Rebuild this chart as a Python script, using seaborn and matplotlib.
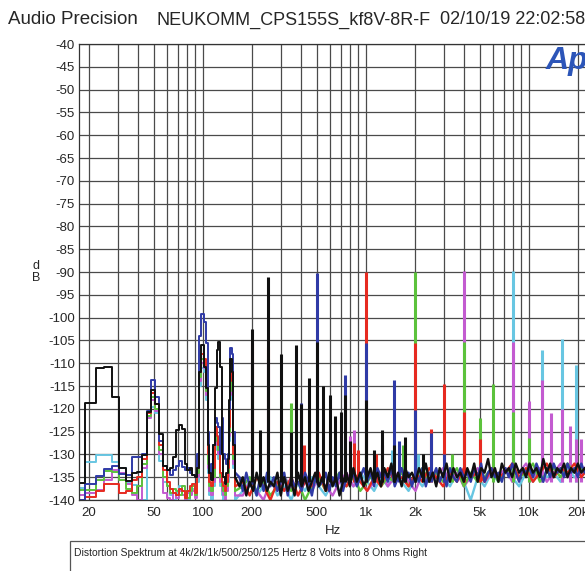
import matplotlib
matplotlib.use("Agg")
import matplotlib.pyplot as plt
import seaborn as sns
import pandas as pd
from matplotlib.patches import Rectangle
from matplotlib.ticker import MultipleLocator

# FFT bins of the low end (Hz)
low_hz = [17.58, 20.51, 23.44, 26.37, 29.30, 32.23, 35.16, 38.09, 41.02, 43.95,
          46.88, 49.80, 52.73, 55.66, 58.59, 61.52, 64.45, 67.38, 70.31, 73.24,
          76.17, 79.10, 82.03, 84.96, 87.89, 90.82, 93.75, 96.68, 99.61, 102.54,
          105.47, 108.40, 111.33, 114.26, 117.19, 120.12, 123.05, 125.98, 128.91, 131.84,
          134.77, 137.70, 140.63, 143.55, 146.48, 149.41, 152.34, 155.27, 158.20]

# noise floor sample frequencies (Hz)
floor_hz = [158, 168, 176, 185, 194, 204, 214, 225, 236, 248, 260, 273, 287, 301, 316,
            332, 349, 366, 384, 404, 424, 445, 467, 490, 515, 541, 568, 596, 626, 657,
            690, 725, 761, 799, 839, 881, 925, 971, 1020, 1070, 1125, 1180, 1240, 1300,
            1365, 1435, 1505, 1580, 1660, 1745, 1830, 1920, 2020, 2120, 2225, 2335, 2450,
            2575, 2705, 2840, 2980, 3130, 3285, 3450, 3625, 3805, 3995, 4195, 4405, 4625,
            4860, 5100, 5355, 5625, 5905, 6200, 6510, 6835, 7180, 7540, 7915, 8310, 8725,
            9165, 9620, 10100, 10610, 11140, 11700, 12280, 12900, 13540, 14220, 14930,
            15680, 16460, 17280, 18150, 19050, 20000, 21000, 22050, 23150]
floor_hz_coarse = floor_hz[::2]

# ---- black trace (250 Hz) ----
black_low = [-136.3, -118.7, -111.1, -110.8, -117.3, -132.9, -135.8, -134.0, -133.8, -130.2,
             -120.8, -115.9, -119.0, -125.5, -132.5, -133.5, -133.0, -130.5, -124.6, -123.6,
             -124.4, -132.0, -133.5, -133.0, -134.5, -135.0, -133.0, -112.0, -106.0, -110.8,
             -115.4, -128.0, -134.0, -135.5, -128.0, -115.4, -107.0, -105.3, -110.8, -130.0,
             -135.0, -136.5, -134.0, -131.0, -118.0, -109.0, -112.0, -128.0, -135.0]
black_floor = [-135, -137, -135, -139, -136, -138, -134, -137, -135, -138, -136,
               -137, -134, -139, -135, -138, -136, -139, -134, -137, -135, -138, -136, -134, -137,
               -135, -138, -134, -137, -135, -139, -136, -134, -137, -133, -136, -134, -137,
               -135, -133, -136, -134, -137, -133, -135, -132, -136, -134, -137, -133, -135, -134,
               -136, -133, -135, -132, -136, -134, -137, -133, -135, -132, -136, -133, -135, -134, -136,
               -133, -135, -132, -136, -133, -134, -131, -135, -133, -136, -132, -134, -133, -135,
               -132, -134, -133, -135,
               -132, -134, -133, -135, -131, -134, -132, -135, -133, -134, -132, -135, -133, -134,
               -132, -134, -133, -134]
black_peak_hz = [200, 225, 250, 300, 350, 375, 400, 450, 500, 545, 600, 650, 700, 750, 800,
                 1000, 1125, 1250, 1500, 1750, 2250]
black_peak_db = [-102.5, -124.6, -91.0, -108.0, -125.0, -106.0, -119.0, -113.3, -105.3, -115.0,
                 -117.0, -121.6, -120.8, -117.0, -127.0, -118.0, -129.0, -124.6, -128.0, -126.1,
                 -130.0]

# ---- blue trace (500 Hz) ----
blue_low = [-140.0, -136.5, -134.7, -133.1, -132.5, -134.2, -134.5, -130.5, -130.5, -130.0,
            -120.5, -113.7, -117.5, -127.0, -132.5, -133.5, -134.5, -133.5, -132.5, -131.5,
            -132.8, -133.5, -133.0, -134.0, -134.5, -135.0, -130.0, -104.0, -99.1, -101.0,
            -105.5, -125.0, -134.0, -132.0, -128.0, -122.0, -123.0, -124.0, -130.0, -122.0,
            -130.0, -131.0, -132.0, -130.0, -120.0, -106.7, -108.0, -125.0, -134.0]
blue_floor = [-134, -135, -138, -134, -137, -136, -139, -135, -138, -134, -137,
              -135, -138, -136, -134, -139, -135, -137, -136, -138, -134, -136, -139, -135, -137,
              -136, -134, -138, -135, -137, -134, -138, -135, -136, -134, -137, -135, -133,
              -136, -134, -137, -133, -135, -134, -136, -133, -137, -135, -133, -136, -134, -137,
              -134, -136, -133, -137, -134, -135, -133, -136, -134, -137, -133, -135, -136, -133, -135,
              -134, -136, -133, -135, -132, -136, -134, -133, -135, -134, -136, -133, -135, -132,
              -134, -136, -133, -134,
              -133, -135, -132, -134, -136, -133, -135, -132, -134, -133, -135, -132, -134, -133,
              -135, -132, -134, -133]
blue_peak_hz = [200, 250, 400, 500, 750, 1000, 1250, 1500, 1600, 2000, 2500, 3000]
blue_peak_db = [-109.3, -109.0, -118.8, -90.3, -112.6, -105.6, -128.0, -113.7, -127.0, -120.2,
                -125.4, -130.0]

# ---- red trace (1 kHz) ----
red_low = [-140.0, -139.4, -138.0, -136.5, -136.5, -138.5, -138.0, -135.5, -135.0, -131.0,
           -121.0, -116.5, -119.0, -128.0, -133.5, -136.0, -137.5, -138.5, -139.0, -137.5,
           -138.0, -139.5, -138.0, -137.0, -136.5, -138.5, -133.0, -112.0, -108.0, -109.0,
           -114.0, -130.0, -136.0, -137.0, -133.0, -124.0, -126.0, -128.0, -134.0, -136.0,
           -137.0, -138.0, -136.0, -133.0, -124.0, -112.0, -114.0, -130.0, -137.0]
red_floor = [-137, -136, -139, -135, -137, -140, -136, -138, -135, -139,
             -136, -137, -134, -138, -136, -135, -137, -134, -136, -138,
             -135, -137, -133, -136, -135, -137, -134, -136, -133, -135,
             -137, -134, -136, -133, -135, -134, -136, -133, -135, -134,
             -132, -135, -133, -136, -134, -132, -135, -133, -134, -132,
             -135, -133]
red_peak_hz = [200, 250, 420, 850, 900, 1000, 1150, 2000, 2500, 3000, 4000, 5000]
red_peak_db = [-105.5, -106.5, -128.0, -127.5, -129.0, -90.0, -130.0, -105.6, -124.5, -114.5,
               -120.6, -126.6]

# ---- green trace (2 kHz) ----
green_low = [-137.8, -137.8, -135.6, -133.6, -133.8, -135.5, -137.5, -138.5, -137.0, -132.0,
             -121.5, -117.5, -120.0, -129.0, -135.0, -137.0, -138.5, -137.5, -138.0, -139.0,
             -137.0, -138.0, -139.5, -138.0, -137.0, -139.0, -134.0, -113.0, -109.0, -110.0,
             -116.0, -132.0, -137.0, -138.0, -135.0, -126.0, -127.0, -129.0, -135.0, -137.0,
             -138.0, -139.0, -137.0, -134.0, -125.0, -114.0, -116.0, -131.0, -138.0]
green_floor = [-138, -137, -135, -138, -136, -139, -137, -135, -138, -136,
               -140, -137, -135, -138, -136, -134, -137, -135, -138, -136,
               -134, -137, -135, -136, -134, -137, -135, -133, -136, -134,
               -136, -135, -133, -137, -134, -136, -135, -133, -136, -134,
               -133, -135, -134, -132, -136, -134, -133, -135, -132, -134,
               -133, -135]
green_peak_hz = [350, 650, 1700, 2000, 3400, 4000, 5000, 6000, 8000, 10000]
green_peak_db = [-118.8, -129.0, -128.0, -90.0, -130.0, -105.3, -122.0, -114.5, -120.6, -126.5]

# ---- magenta trace (4 kHz) ----
magenta_low = [-138.9, -138.5, -137.8, -135.6, -133.5, -134.0, -136.5, -139.0, -140.0, -133.0,
               -122.0, -118.0, -120.5, -130.0, -138.5, -139.5, -140.0, -138.5, -139.5, -138.0,
               -139.0, -140.0, -138.5, -139.0, -138.0, -139.5, -135.0, -114.0, -110.0, -111.0,
               -117.0, -133.0, -138.0, -139.0, -136.0, -127.0, -128.0, -130.0, -136.0, -138.0,
               -139.0, -140.0, -138.0, -135.0, -126.0, -115.0, -117.0, -132.0, -139.0]
magenta_floor = [-139, -139, -136, -138, -140, -136, -138, -135, -137, -139,
                 -136, -138, -135, -137, -139, -136, -134, -137, -135, -138,
                 -136, -134, -137, -135, -133, -136, -138, -134, -136, -135,
                 -133, -136, -134, -137, -135, -133, -136, -134, -135, -133,
                 -136, -134, -132, -135, -133, -136, -134, -132, -135, -133,
                 -134, -132]
magenta_peak_hz = [800, 850, 4000, 8000, 10000, 12000, 13700, 15900, 17800, 19400, 21000]
magenta_peak_db = [-126.0, -124.6, -89.8, -105.3, -118.3, -113.7, -121.0, -120.0, -123.7,
                   -126.6, -126.6]

# ---- cyan trace (8 kHz) ----
cyan_low = [-137.3, -131.7, -130.1, -130.1, -131.6, -133.0, -136.3, -136.8, -140.0, -140.0,
            -121.5, -119.5, -121.0, -131.5, -136.0, -137.0, -139.0, -140.0, -138.5, -137.0,
            -138.0, -139.0, -140.0, -138.5, -137.5, -139.0, -136.0, -115.0, -111.0, -112.0,
            -118.0, -134.0, -139.0, -140.0, -137.0, -128.0, -129.0, -131.0, -137.0, -139.0,
            -140.0, -139.0, -137.0, -136.0, -127.0, -116.0, -118.0, -133.0, -140.0]
cyan_floor = [-140, -138, -136, -139, -137, -135, -139, -137, -140, -136,
              -138, -135, -137, -139, -136, -138, -135, -137, -134, -136,
              -138, -135, -137, -134, -136, -138, -135, -137, -134, -136,
              -135, -137, -134, -136, -140, -135, -137, -134, -136, -133,
              -135, -137, -134, -136, -133, -135, -134, -136, -133, -135,
              -134, -133]
cyan_peak_hz = [1450, 2100, 8000, 12000, 16000, 19400]
cyan_peak_db = [-129.0, -130.0, -89.8, -107.0, -104.6, -110.3]

# drawing order: first is at the bottom
traces = [
    ("cyan", "#68c6e2", cyan_low, floor_hz_coarse, cyan_floor, cyan_peak_hz, cyan_peak_db),
    ("magenta", "#c35bd0", magenta_low, floor_hz_coarse, magenta_floor, magenta_peak_hz, magenta_peak_db),
    ("green", "#5cc23c", green_low, floor_hz_coarse, green_floor, green_peak_hz, green_peak_db),
    ("red", "#e62a20", red_low, floor_hz_coarse, red_floor, red_peak_hz, red_peak_db),
    ("blue", "#2f3aa6", blue_low, floor_hz, blue_floor, blue_peak_hz, blue_peak_db),
    ("black", "#101010", black_low, floor_hz, black_floor, black_peak_hz, black_peak_db),
]

grid_hz = [20, 30, 40, 50, 60, 70, 80, 90, 100, 200, 300, 400, 500, 600, 700, 800, 900,
           1000, 2000, 3000, 4000, 5000, 6000, 7000, 8000, 9000, 10000, 20000]
tick_labels = {20: "20", 50: "50", 100: "100", 200: "200", 500: "500", 1000: "1k",
               2000: "2k", 5000: "5k", 10000: "10k", 20000: "20k"}

sns.set_style("white")
plt.rcParams["font.family"] = ["Liberation Sans", "DejaVu Sans"]
plt.rcParams["axes.unicode_minus"] = False

fig = plt.figure(figsize=(5.85, 5.71), dpi=100)
ax = fig.add_axes([0.135, 0.1243, 0.8697, 0.7986])
ax.set_xscale("log")

for name, color, low_db, f_hz, f_db, pk_hz, pk_db in traces:
    low = pd.DataFrame({"hz": low_hz, "db": low_db})
    floor = pd.DataFrame({"hz": f_hz, "db": f_db})
    sns.lineplot(data=low, x="hz", y="db", color=color, estimator=None, sort=False,
                 drawstyle="steps-mid", linewidth=1.4, ax=ax)
    sns.lineplot(data=floor, x="hz", y="db", color=color, estimator=None, sort=False,
                 linewidth=1.7, ax=ax)
    ax.vlines(pk_hz, -136, pk_db, color=color, linewidth=2.2)

ax.set_xlim(17.4, 23000)
ax.set_ylim(-140, -40)

ax.set_xticks(grid_hz)
ax.set_xticklabels([tick_labels.get(f, "") for f in grid_hz])
ax.xaxis.set_minor_locator(plt.NullLocator())
ax.tick_params(axis="x", length=0, labelsize=9.5, pad=5)

ax.yaxis.set_major_locator(MultipleLocator(5))
ax.yaxis.set_minor_locator(MultipleLocator(0.5))
ax.tick_params(axis="y", which="major", direction="in", length=8, width=0.8, labelsize=9.5, pad=3)
ax.tick_params(axis="y", which="minor", direction="in", length=5, width=0.5)

ax.grid(True, which="major", color="#4a4a4a", linewidth=0.9)
ax.set_axisbelow(True)
for s in ax.spines.values():
    s.set_color("#333333")
    s.set_linewidth(0.9)

ax.set_xlabel("Hz", fontsize=9.5, labelpad=4)
ax.set_ylabel("")
fig.text(36 / 585, 1 - 272 / 571, "d\nB", fontsize=9, ha="center", va="center", linespacing=1.1)

# header
fig.text(8 / 585, 1 - 20 / 571, "Audio Precision", fontsize=13.5, ha="left", va="center")
fig.text(156 / 585, 1 - 20 / 571, "NEUKOMM_CPS155S_kf8V-8R-F", fontsize=13, ha="left", va="center")
fig.text(440 / 585, 1 - 20 / 571, "02/10/19 22:02:58", fontsize=13, ha="left", va="center")
fig.text(546 / 585, 1 - 61 / 571, "Ap", fontsize=23, fontweight="bold", fontstyle="italic",
         color="#2c55b8", ha="left", va="center")

# comment box
fig.patches.append(Rectangle((70 / 585, -0.05), 0.95, 0.05 + 1 - 541 / 571,
                             transform=fig.transFigure, fill=False, edgecolor="#555555",
                             linewidth=0.9))
fig.text(74 / 585, 1 - 553 / 571,
         "Distortion Spektrum at 4k/2k/1k/500/250/125 Hertz 8 Volts into 8 Ohms Right",
         fontsize=7.5, ha="left", va="center")

fig.savefig("out.png", dpi=100)
